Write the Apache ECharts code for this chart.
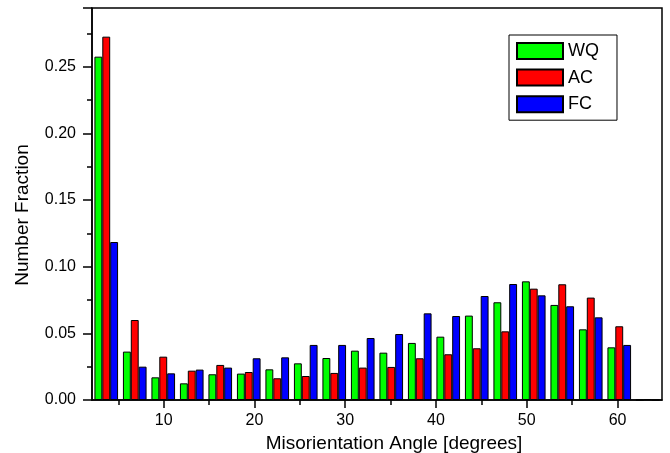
<!DOCTYPE html>
<html>
<head>
<meta charset="utf-8">
<script src="https://cdn.jsdelivr.net/npm/echarts@6/dist/echarts.min.js"></script>
<style>
  html, body { margin: 0; padding: 0; background: #fff; }
  #main { width: 670px; height: 453px; }
</style>
</head>
<body>
<div id="main"></div>
<script>
// bin centres (degrees), bins are 3.14 deg wide from 2.1 to 64.9
var bins = ['3.67', '6.81', '9.95', '13.09', '16.23', '19.37', '22.51', '25.65', '28.79', '31.93',
            '35.07', '38.21', '41.35', '44.49', '47.63', '50.77', '53.91', '57.05', '60.19', '63.33'];
var wq = [0.2575, 0.0363, 0.0170, 0.0125, 0.0193, 0.0198, 0.0230, 0.0275, 0.0315, 0.0370,
          0.0355, 0.0428, 0.0475, 0.0633, 0.0733, 0.0890, 0.0713, 0.0530, 0.0395, 0.0000];
var ac = [0.2725, 0.0600, 0.0325, 0.0220, 0.0263, 0.0210, 0.0163, 0.0180, 0.0203, 0.0243,
          0.0248, 0.0313, 0.0343, 0.0388, 0.0515, 0.0835, 0.0868, 0.0768, 0.0553, 0.0005];
var fc = [0.1185, 0.0250, 0.0200, 0.0228, 0.0243, 0.0313, 0.0320, 0.0413, 0.0413, 0.0465,
          0.0495, 0.0650, 0.0630, 0.0780, 0.0870, 0.0785, 0.0703, 0.0620, 0.0413, 0.0000];
var xMajor = [10, 20, 30, 40, 50, 60];
var xMinor = [5, 15, 25, 35, 45, 55, 65];

var font = "'Liberation Sans', Arial, sans-serif";
var chart = echarts.init(document.getElementById('main'));

function barSeries(name, data, color) {
    return {
        name: name,
        type: 'bar',
        xAxisIndex: 0,
        data: data,
        barGap: '0%',
        barCategoryGap: '17%',
        itemStyle: { color: color, borderColor: '#000', borderWidth: 1 }
    };
}

chart.setOption({
    animation: false,
    backgroundColor: '#fff',
    grid: {
        left: 92, top: 8, right: 8, bottom: 53,
        outerBoundsMode: 'none',
        containLabel: false,
        show: true, borderColor: '#000', borderWidth: 1.5
    },
    legend: {
        orient: 'vertical',
        left: 509, top: 35,
        icon: 'rect',
        itemWidth: 46, itemHeight: 16, itemGap: 8.6,
        padding: [7, 18, 7, 7],
        borderColor: '#000', borderWidth: 1,
        textStyle: { fontFamily: font, fontSize: 18, color: '#000' },
        data: ['WQ', 'AC', 'FC']
    },
    xAxis: [
        {
            type: 'category',
            data: bins,
            boundaryGap: true,
            show: false
        },
        {
            type: 'value',
            min: 2.1, max: 64.9,
            position: 'bottom',
            name: 'Misorientation Angle [degrees]',
            nameLocation: 'middle',
            nameGap: 30,
            nameTextStyle: { fontFamily: font, fontSize: 19, color: '#000', padding: [0, 0, 0, 34] },
            axisLine: { lineStyle: { color: '#000', width: 1.5 } },
            axisTick: { length: 8, customValues: xMajor, lineStyle: { color: '#000', width: 1.5 } },
            axisLabel: { customValues: xMajor, margin: 13, fontFamily: font, fontSize: 16, color: '#000' },
            splitLine: { show: false }
        },
        {
            type: 'value',
            min: 2.1, max: 64.9,
            position: 'bottom',
            axisLine: { show: false },
            axisTick: { length: 5, customValues: xMinor, lineStyle: { color: '#000', width: 1.5 } },
            axisLabel: { show: false },
            splitLine: { show: false }
        }
    ],
    yAxis: {
        type: 'value',
        min: 0, max: 0.294,
        interval: 0.05,
        name: 'Number Fraction',
        nameLocation: 'middle',
        nameGap: 60,
        nameTextStyle: { fontFamily: font, fontSize: 19, color: '#000', padding: [0, 22, 0, 0] },
        axisLine: { show: true, lineStyle: { color: '#000', width: 1.5 } },
        axisTick: { show: true, length: 9, lineStyle: { color: '#000', width: 1.5 } },
        minorTick: { show: true, splitNumber: 2, length: 5, lineStyle: { color: '#000', width: 1.5 } },
        axisLabel: {
            margin: 16, fontFamily: font, fontSize: 16, color: '#000',
            showMaxLabel: false,
            formatter: function (v) { return v.toFixed(2); }
        },
        splitLine: { show: false }
    },
    series: [
        barSeries('WQ', wq, '#00ff00'),
        barSeries('AC', ac, '#ff0000'),
        barSeries('FC', fc, '#0000ff')
    ]
});
</script>
</body>
</html>
